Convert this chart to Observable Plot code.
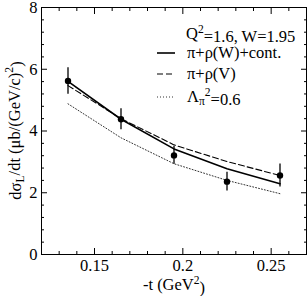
<!DOCTYPE html>
<html>
<head>
<meta charset="utf-8">
<script src="https://cdn.jsdelivr.net/npm/d3@7"></script>
<script src="https://cdn.jsdelivr.net/npm/@observablehq/plot@0.6"></script>
<style>
  html, body { margin: 0; padding: 0; background: white; }
  #chart { position: relative; width: 307px; height: 296px; }
  #chart svg text { font-family: "Liberation Serif", "Times New Roman", serif !important; }
</style>
</head>
<body>
<div id="chart"></div>
<script>
// ---- data ----
const tValues   = [0.135, 0.165, 0.195, 0.225, 0.255];
const dataY     = [5.62, 4.38, 3.21, 2.36, 2.56];
const dataErr   = [0.43, 0.34, 0.29, 0.30, 0.37];
const solidY    = [5.61, 4.38, 3.42, 2.78, 2.29];
const dashedY   = [5.47, 4.40, 3.55, 3.01, 2.56];
const dottedY   = [4.88, 3.78, 2.94, 2.40, 1.97];

const xMajor = [0.15, 0.2, 0.25];
const xMinor = [0.13, 0.14, 0.16, 0.17, 0.18, 0.19, 0.21, 0.22, 0.23, 0.24, 0.26];
const yMajor = [0, 2, 4, 6, 8];
const yMinor = [0.4, 0.8, 1.2, 1.6, 2.4, 2.8, 3.2, 3.6, 4.4, 4.8, 5.2, 5.6, 6.4, 6.8, 7.2, 7.6];
const xTickLabels = ["0.15", "0.2", "0.25"];
const yTickLabels = ["0", "2", "4", "6", "8"];

const legendTitle = "Q^2=1.6, W=1.95";
const seriesNames = ["π+ρ(W)+cont.", "π+ρ(V)", "Λπ2=0.6"];

// ---- tables ----
const points = tValues.map((t, i) => ({t, y: dataY[i], lo: dataY[i] - dataErr[i], hi: dataY[i] + dataErr[i]}));
const solid  = tValues.map((t, i) => ({t, y: solidY[i]}));
const dashed = tValues.map((t, i) => ({t, y: dashedY[i]}));
const dotted = tValues.map((t, i) => ({t, y: dottedY[i]}));

const font = "Liberation Serif, Times New Roman, serif";
const fs = 16.5;

const tickOpts = {stroke: "black", strokeWidth: 1};
const labOpts = {fontFamily: font, fontSize: fs, label: null};

const plot = Plot.plot({
  width: 307,
  height: 296,
  marginLeft: 41,
  marginRight: 1,
  marginTop: 7,
  marginBottom: 42,
  style: {fontFamily: font, fontSize: fs + "px", background: "white", color: "black"},
  x: {domain: [0.12, 0.27]},
  y: {domain: [0, 8]},
  marks: [
    // inward ticks, all four sides
    Plot.axisX(xMinor, {anchor: "bottom", tickSize: -3, tickFormat: () => "", label: null, ...tickOpts}),
    Plot.axisX(xMinor, {anchor: "top", tickSize: -3, tickFormat: () => "", label: null, ...tickOpts}),
    Plot.axisX(xMajor, {anchor: "bottom", tickSize: -6, tickFormat: () => "", label: null, ...tickOpts}),
    Plot.axisX(xMajor, {anchor: "top", tickSize: -6, tickFormat: () => "", label: null, ...tickOpts}),
    Plot.axisY(yMinor, {anchor: "left", tickSize: -3, tickFormat: () => "", label: null, ...tickOpts}),
    Plot.axisY(yMinor, {anchor: "right", tickSize: -3, tickFormat: () => "", label: null, ...tickOpts}),
    Plot.axisY(yMajor, {anchor: "left", tickSize: -6, tickFormat: () => "", label: null, ...tickOpts}),
    Plot.axisY(yMajor, {anchor: "right", tickSize: -6, tickFormat: () => "", label: null, ...tickOpts}),
    // tick labels
    Plot.axisX(xMajor, {anchor: "bottom", tickSize: 0, tickPadding: 5, tickFormat: (d, i) => xTickLabels[i], ...labOpts}),
    Plot.axisY(yMajor, {anchor: "left", tickSize: 0, tickPadding: 4, tickFormat: (d, i) => yTickLabels[i], ...labOpts}),
    // curves
    Plot.line(dotted, {x: "t", y: "y", stroke: "#333", strokeWidth: 1, strokeDasharray: "1,2"}),
    Plot.line(dashed, {x: "t", y: "y", stroke: "black", strokeWidth: 1.1, strokeDasharray: "6,3"}),
    Plot.line(solid,  {x: "t", y: "y", stroke: "black", strokeWidth: 1.6}),
    // data
    Plot.ruleX(points, {x: "t", y1: "lo", y2: "hi", stroke: "black", strokeWidth: 1.3}),
    Plot.dot(points, {x: "t", y: "y", r: 3.2, fill: "black"}),
    Plot.frame({stroke: "black", strokeWidth: 1})
  ]
});

document.getElementById("chart").appendChild(plot);

// ---- labels with sub/superscripts ----
const svg = d3.select(plot);
svg.selectAll("text").style("font-family", font);
const g = svg.append("g").attr("font-family", font).attr("font-size", fs).attr("fill", "black");

// y-axis label
const yl = g.append("text")
  .attr("transform", "translate(21,130.5) rotate(-90)")
  .attr("text-anchor", "middle");
yl.append("tspan").text("dσ");
yl.append("tspan").attr("dy", "0.3em").attr("font-size", fs * 0.7).text("L");
yl.append("tspan").attr("dy", "-0.3em").text("/dt (μb/(GeV/c)");
yl.append("tspan").attr("dy", "-0.55em").attr("font-size", fs * 0.7).text("2");
yl.append("tspan").attr("dy", "0.55em").text(")");

// x-axis label
const xl = g.append("text")
  .attr("x", 174).attr("y", 290)
  .attr("text-anchor", "middle");
xl.append("tspan").text("-t (GeV");
xl.append("tspan").attr("dy", "-0.55em").attr("font-size", fs * 0.7).text("2");
xl.append("tspan").attr("dy", "0.55em").text(")");

// legend
const lg = g.append("g").attr("text-anchor", "start");
const lx = 187;
const t0 = lg.append("text").attr("x", lx - 1).attr("y", 39);
const [qa, qb] = legendTitle.split("^2");
t0.append("tspan").text(qa);
t0.append("tspan").attr("dy", "-0.55em").attr("font-size", fs * 0.7).text("2");
t0.append("tspan").attr("dy", "0.55em").text(qb);

const rows = [
  {y: 58, dash: null, w: 1.6, stroke: "black"},
  {y: 79, dash: "6,3", w: 1.1, stroke: "black"},
  {y: 102, dash: "1,2", w: 1, stroke: "#333"}
];
rows.forEach((r, i) => {
  lg.append("line")
    .attr("x1", 157).attr("x2", 175)
    .attr("y1", r.y - 5).attr("y2", r.y - 5)
    .attr("stroke", r.stroke).attr("stroke-width", r.w)
    .attr("stroke-dasharray", r.dash);
  const tx = lg.append("text").attr("x", lx).attr("y", r.y);
  if (i < 2) {
    tx.text(seriesNames[i]);
  } else {
    tx.append("tspan").text("Λ");
    tx.append("tspan").attr("dy", "0.3em").attr("font-size", fs * 0.7).text("π");
    tx.append("tspan").attr("dy", "-0.85em").attr("font-size", fs * 0.7).text("2");
    tx.append("tspan").attr("dy", "0.55em").text("=0.6");
  }
});
</script>
</body>
</html>
